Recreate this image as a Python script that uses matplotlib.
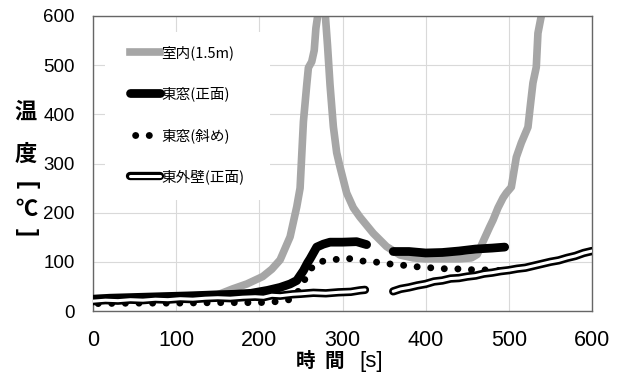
import matplotlib
matplotlib.use("Agg")
import matplotlib.pyplot as plt
import matplotlib.patheffects as pe
from matplotlib.patches import Rectangle

# ---------------- data ----------------
t_indoor = [0, 50, 100, 150, 168, 185, 204, 215, 225, 237, 245, 249, 253, 257, 259, 263, 266, 268,
            271, 275, 279, 282, 285, 289, 293, 297, 305, 313, 321, 337, 353, 369, 385, 400, 420,
            440, 455, 462, 470, 477, 481, 487, 493, 497, 503, 509, 515, 523, 526, 529, 533, 535,
            539, 542]
T_indoor = [25, 27, 30, 33, 45, 55, 70, 85, 104, 151, 212, 250, 385, 460, 495, 507, 530, 575,
            610, 640, 610, 540, 460, 375, 322, 293, 240, 210, 191, 158, 131, 114, 108, 106, 106,
            106, 108, 115, 145, 171, 185, 210, 230, 240, 252, 313, 342, 374, 420, 464, 496, 565,
            600, 640]

t_front1 = [0, 20, 40, 60, 80, 100, 120, 150, 170, 190, 210, 225, 237, 245, 249, 253, 258, 261,
            265, 269, 277, 285, 300, 317, 329]
T_front1 = [24, 26, 27, 28, 29, 30, 31, 33, 34, 36, 42, 48, 55, 62, 72, 82, 98, 106, 118, 130,
            136, 140, 140, 141, 135]
t_front2 = [361, 380, 400, 420, 440, 460, 480, 495]
T_front2 = [121, 121, 118, 119, 122, 126, 128, 130]

t_oblique = [0, 50, 100, 150, 200, 220, 240, 245, 250, 255, 260, 266, 271, 289, 304, 321, 338,
             355, 373, 389, 405, 421, 436, 450, 465, 481, 495]
T_oblique = [15, 16, 16, 17, 17, 19, 24, 35, 50, 65, 80, 95, 100, 104, 108, 102, 100, 96, 93,
             90, 88, 86, 86, 84, 84, 83, 82]

t_wall1 = [0, 15, 30, 45, 60, 75, 90, 105, 120, 135, 150, 165, 180, 195, 205, 215, 225, 240,
           250, 265, 280, 295, 310, 321, 327]
T_wall1 = [20, 22, 21, 23, 22, 24, 23, 25, 24, 26, 27, 26, 28, 29, 28, 32, 31, 34, 35, 37, 36,
           38, 39, 42, 43]
t_wall2 = [361, 370, 380, 390, 400, 410, 420, 430, 440, 450, 460, 470, 480, 490, 500, 510, 520,
           530, 540, 550, 560, 570, 580, 590, 600]
T_wall2 = [40, 45, 48, 52, 55, 60, 62, 66, 67, 70, 72, 76, 78, 81, 83, 86, 88, 92, 96, 100,
           103, 108, 112, 118, 122]

labels = ["室内(1.5m)", "東窓(正面)", "東窓(斜め)", "東外壁(正面)"]
x_ticks = [0, 100, 200, 300, 400, 500, 600]
y_ticks = [0, 100, 200, 300, 400, 500, 600]

# ---------------- figure ----------------
CJK = ["Noto Sans CJK JP", "DejaVu Sans"]
NUM = ["Liberation Sans", "DejaVu Sans"]

fig = plt.figure(figsize=(6.19, 3.76), dpi=100)
ax = fig.add_axes([93 / 619, 1 - 311 / 376, (592 - 93) / 619, (311 - 16) / 376])

ax.set_xlim(0, 600)
ax.set_ylim(0, 600)
ax.set_xticks(x_ticks)
ax.set_yticks(y_ticks)
ax.grid(True, color="#d9d9d9", lw=0.8, zorder=0)
ax.set_axisbelow(True)
for s in ax.spines.values():
    s.set_color("#666666")
    s.set_linewidth(1.0)
ax.tick_params(length=0)
ax.tick_params(axis="x", pad=14)
ax.tick_params(axis="y", pad=13)
for lab in ax.get_xticklabels():
    lab.set_fontfamily(NUM)
    lab.set_fontsize(15.5)
for lab in ax.get_yticklabels():
    lab.set_fontfamily(NUM)
    lab.set_fontsize(13.5)

# white area behind legend (hides grid)
ax.add_patch(Rectangle((12 / 499, 111 / 295), 165 / 499, 168 / 295, transform=ax.transAxes,
                       facecolor="white", edgecolor="none", zorder=1))

gray = "#a6a6a6"
l1, = ax.plot(t_indoor, T_indoor, color=gray, lw=5.5, solid_joinstyle="round", zorder=2)
l2, = ax.plot(t_front1, T_front1, color="black", lw=6.3, solid_capstyle="round",
              solid_joinstyle="round", zorder=3)
ax.plot(t_front2, T_front2, color="black", lw=6.3, solid_capstyle="round",
        solid_joinstyle="round", zorder=3)
l3, = ax.plot(t_oblique, T_oblique, color="black", lw=5.0, linestyle=(1.22, (0.01, 1.95)),
              dash_capstyle="round", zorder=4)
wall_fx = [pe.Stroke(linewidth=6.0, foreground="black"), pe.Normal()]
l4, = ax.plot(t_wall1, T_wall1, color="white", lw=2.2, solid_capstyle="round",
              path_effects=wall_fx, zorder=5)
ax.plot(t_wall2, T_wall2, color="white", lw=2.2, solid_capstyle="round",
        path_effects=wall_fx, zorder=5)

leg = ax.legend([l1, l2, l3, l4], labels, loc="upper left",
                bbox_to_anchor=(37 / 499, 1 - 29 / 295), frameon=False,
                prop={"family": CJK, "size": 10.5}, handlelength=2.05, handletextpad=0.1,
                labelspacing=1.83, borderpad=0, borderaxespad=0)

# axis labels
fig.text(306 / 619, 1 - 361 / 376, "時", ha="center", va="center",
         family=CJK, fontsize=14, fontweight="bold")
fig.text(334 / 619, 1 - 361 / 376, "間", ha="center", va="center",
         family=CJK, fontsize=14, fontweight="bold")
fig.text(371 / 619, 1 - 361 / 376, "[s]", ha="center", va="center",
         family=NUM, fontsize=16)

fig.text(26 / 619, 1 - 112 / 376, "温", ha="center", va="center",
         family=CJK, fontsize=16, fontweight="bold")
fig.text(26 / 619, 1 - 154 / 376, "度", ha="center", va="center",
         family=CJK, fontsize=16, fontweight="bold")
fig.text(26 / 619, 1 - 185 / 376, "[", ha="center", va="center", rotation=-90,
         family=NUM, fontsize=17, fontweight="bold")
fig.text(26 / 619, 1 - 210 / 376, "℃", ha="center", va="center",
         family=CJK, fontsize=16, fontweight="bold")
fig.text(26 / 619, 1 - 232 / 376, "]", ha="center", va="center", rotation=-90,
         family=NUM, fontsize=17, fontweight="bold")

fig.savefig("out.png", dpi=100)
